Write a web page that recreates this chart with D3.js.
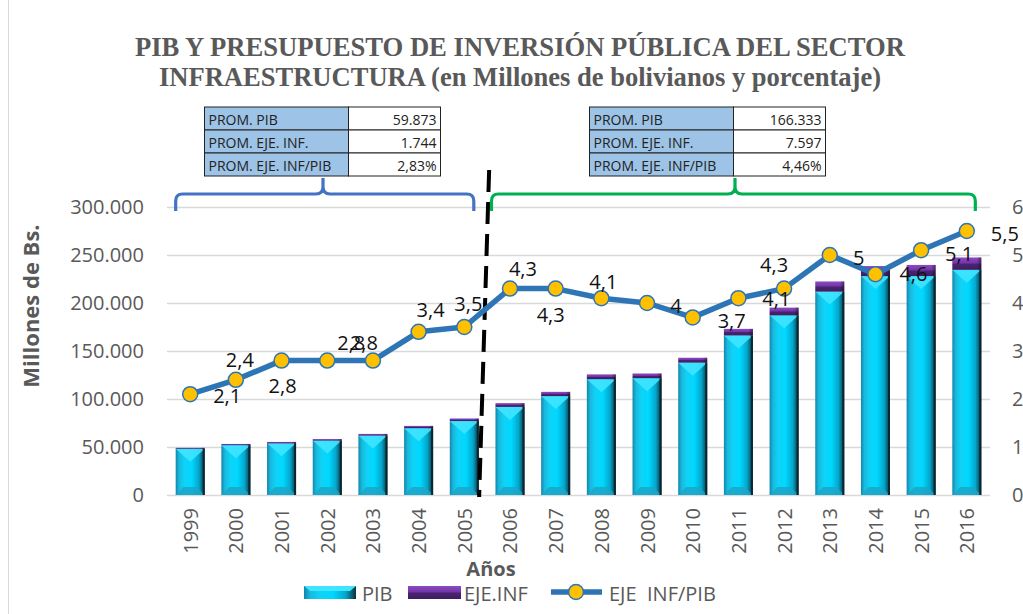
<!DOCTYPE html>
<html><head><meta charset="utf-8">
<script src="https://cdn.jsdelivr.net/npm/d3@7"></script>
<style>
html,body{margin:0;padding:0;background:#fff;}
svg{display:block;font-family:"Open Sans",sans-serif;}
</style></head>
<body><svg id="c" width="1023" height="614"></svg>
<script>
// ---- data ----
const years = ["1999","2000","2001","2002","2003","2004","2005","2006","2007","2008","2009","2010","2011","2012","2013","2014","2015","2016"];
const pib = [48156,51928,53790,56682,61904,69626,77024,91748,103009,120694,121727,137876,166232,187154,211856,228004,228031,234533];
const ejeInf = [1011,1246,1506,1587,1733,2367,2696,3945,4429,4948,4869,5101,6816,8048,10593,10488,11630,12899];
const ratio = [2.1,2.4,2.8,2.8,2.8,3.4,3.5,4.3,4.3,4.1,4.0,3.7,4.1,4.3,5.0,4.6,5.1,5.5];
const leftTicks = [0,50000,100000,150000,200000,250000,300000];
const rightTicks = [0,1,2,3,4,5,6];
const tableLabels = ["PROM. PIB","PROM. EJE. INF.","PROM. EJE. INF/PIB"];
const tableLeftValues = ["59.873","1.744","2,83%"];
const tableRightValues = ["166.333","7.597","4,46%"];
const titleLines = ["PIB Y PRESUPUESTO DE INVERSIÓN PÚBLICA DEL SECTOR","INFRAESTRUCTURA (en Millones de bolivianos y porcentaje)"];
const legendNames = ["PIB","EJE.INF","EJE  INF/PIB"];
// label placement offsets (layout only)
const labelOffsets = [[37,1],[4,-20],[1,25],[24,-18],[-9,-18],[12,-22],[4,-24],[13,-20],[-5,26],[2,-17],[29,2],[39,3],[38,0],[-10,-24],[29,2],[38,-1],[38,3],[38,2]];

const svg = d3.select("#c");
const grey = "#595959";
const loc = d3.formatLocale({decimal:",",thousands:".",grouping:[3],currency:["",""]});
const fmtL = loc.format(",");
const fmtR = v => String(v).replace(".",",");

const x = d3.scaleBand().domain(years).range([167,990]).paddingInner(0.365).paddingOuter(0.19);
const yL = d3.scaleLinear().domain([0,300000]).range([495,207]);
const yR = d3.scaleLinear().domain([0,6]).range([495,207]);
const bw = x.bandwidth();

// defs
const defs = svg.append("defs");
const g1 = defs.append("linearGradient").attr("id","cyan").attr("x1",0).attr("x2",1).attr("y1",0).attr("y2",0);
[[0,"#1386a8"],[0.12,"#18b9de"],[0.3,"#10d2f6"],[0.55,"#00d8ff"],[0.8,"#04a6cc"],[0.93,"#0b5a70"],[1,"#0a2f3a"]].forEach(s=>g1.append("stop").attr("offset",s[0]).attr("stop-color",s[1]));
const g2 = defs.append("linearGradient").attr("id","purp").attr("x1",0).attr("x2",0).attr("y1",0).attr("y2",1);
[[0,"#8a4cc4"],[0.45,"#7434a8"],[0.55,"#4a2470"],[1,"#3e1d60"]].forEach(s=>g2.append("stop").attr("offset",s[0]).attr("stop-color",s[1]));
const g3 = defs.append("linearGradient").attr("id","purpH").attr("x1",0).attr("x2",1).attr("y1",0).attr("y2",0);
[[0,"rgba(0,0,0,0)"],[0.85,"rgba(0,0,0,0)"],[1,"rgba(0,0,0,0.45)"]].forEach(s=>g3.append("stop").attr("offset",s[0]).attr("stop-color",s[1]));

// chart border (left)
svg.append("line").attr("x1",8.5).attr("x2",8.5).attr("y1",0).attr("y2",614).attr("stroke","#d9d9d9").attr("stroke-width",1);

// title
svg.selectAll("text.title").data(titleLines).join("text").attr("class","title")
  .attr("x",520).attr("y",(d,i)=>56+i*30).attr("text-anchor","middle")
  .attr("font-family","'Liberation Serif','Times New Roman',serif").attr("font-weight","bold")
  .attr("font-size",27).attr("fill",grey)
  .attr("textLength",(d,i)=>i===0?770:722).attr("lengthAdjust","spacingAndGlyphs")
  .text(d=>d);

// gridlines
svg.append("g").selectAll("line").data(leftTicks).join("line")
  .attr("x1",167).attr("x2",990).attr("y1",d=>Math.round(yL(d))+0.5).attr("y2",d=>Math.round(yL(d))+0.5)
  .attr("stroke","#d9d9d9").attr("stroke-width",1.5);

// left axis
const axL = svg.append("g").attr("transform","translate(167,0)")
  .call(d3.axisLeft(yL).tickValues(leftTicks).tickFormat(fmtL).tickSize(0).tickPadding(23));
axL.select(".domain").remove();
axL.selectAll("text").attr("font-size",20).attr("fill",grey).attr("font-family","'Open Sans',sans-serif");

// right axis
const axR = svg.append("g").attr("transform","translate(990,0)")
  .call(d3.axisRight(yR).tickValues(rightTicks).tickFormat(d=>d).tickSize(0).tickPadding(22));
axR.select(".domain").remove();
axR.selectAll("text").attr("font-size",20).attr("fill",grey).attr("font-family","'Open Sans',sans-serif");

// x axis
const axX = svg.append("g").attr("transform","translate(0,495)")
  .call(d3.axisBottom(x).tickSize(0).tickPadding(0));
axX.select(".domain").remove();
axX.selectAll("text").attr("font-size",20).attr("fill",grey).attr("font-family","'Open Sans',sans-serif")
  .attr("text-anchor","end").attr("dy",null).attr("y",0)
  .attr("transform","translate(0,13) rotate(-90)").attr("dominant-baseline","central");

// axis titles
svg.append("text").attr("transform","translate(30,306) rotate(-90)").attr("text-anchor","middle")
  .attr("dominant-baseline","central").attr("font-size",22).attr("font-weight","bold").attr("fill",grey).text("Millones de Bs.");
svg.append("text").attr("x",491).attr("y",576).attr("text-anchor","middle")
  .attr("font-size",20).attr("font-weight","bold").attr("fill",grey).text("Años");

// bars
const bars = svg.append("g").selectAll("g").data(years).join("g");
bars.each(function(d,i){
  const g = d3.select(this);
  const x0 = x(d), x1 = x0+bw, xc = x0+bw/2;
  const yTop = yL(pib[i]), yB = yL(0);
  g.append("rect").attr("x",x0).attr("y",yTop).attr("width",bw).attr("height",yB-yTop).attr("fill","url(#cyan)");
  const tb = Math.min(13,(yB-yTop)/2);
  g.append("polygon").attr("points",[[x0,yTop],[x1,yTop],[xc,yTop+tb]].join(" ")).attr("fill","#3fe4ff").attr("opacity",0.9);
  const bb = 8;
  g.append("polygon").attr("points",[[x0,yB],[x1,yB],[x1-bb,yB-bb],[x0+bb,yB-bb]].join(" ")).attr("fill","#1ba6c8").attr("opacity",0.85);
  g.append("rect").attr("x",x1-2).attr("y",yTop).attr("width",2).attr("height",yB-yTop).attr("fill","#072830");
  // purple stack
  const yP = yL(pib[i]+ejeInf[i]);
  g.append("rect").attr("x",x0).attr("y",yP).attr("width",bw).attr("height",yTop-yP).attr("fill","url(#purp)");
  g.append("rect").attr("x",x0).attr("y",yP).attr("width",bw).attr("height",yTop-yP).attr("fill","url(#purpH)");
});

// dashed separator
const sepX = (x(years[6])+bw + x(years[7]))/2;
svg.append("line").attr("x1",sepX+2).attr("y1",170).attr("x2",sepX-8).attr("y2",497)
  .attr("stroke","#000").attr("stroke-width",4).attr("stroke-dasharray","22,10");

// line
const pts = ratio.map((v,i)=>[x(years[i])+bw/2, yR(v)]);
svg.append("path").attr("d",d3.line()(pts)).attr("fill","none").attr("stroke","#2e75b6").attr("stroke-width",5.5).attr("stroke-linejoin","round");
svg.append("g").selectAll("circle").data(pts).join("circle")
  .attr("cx",d=>d[0]).attr("cy",d=>d[1]).attr("r",7.5).attr("fill","#ffc000").attr("stroke","#2e75b6").attr("stroke-width",1.5);
svg.append("g").selectAll("text").data(ratio).join("text")
  .attr("x",(d,i)=>pts[i][0]+labelOffsets[i][0]).attr("y",(d,i)=>pts[i][1]+labelOffsets[i][1])
  .attr("text-anchor","middle").attr("dominant-baseline","central").attr("font-size",20).attr("fill","#111")
  .text(d=>fmtR(d));

// brackets
function bracket(x0,x1,xm,color){
  const yh=194, yb=211, yt=178, r=7;
  const p = `M${x0},${yb} L${x0},${yh+r} Q${x0},${yh} ${x0+r},${yh} L${xm-r},${yh} Q${xm},${yh} ${xm},${yh-r} L${xm},${yt} M${xm},${yh-r} Q${xm},${yh} ${xm+r},${yh} L${x1-r},${yh} Q${x1},${yh} ${x1},${yh+r} L${x1},${yb}`;
  svg.append("path").attr("d",p).attr("fill","none").attr("stroke",color).attr("stroke-width",3.2);
}
bracket(x(years[0]), x(years[6])+bw-5, 323, "#4472c4");
bracket(x(years[7])-4, x(years[17])+bw-6, 735, "#00b050");

// tables
function table(tx,split,tr,values){
  const top=107, rh=23;
  const g = svg.append("g");
  tableLabels.forEach((lab,i)=>{
    const y0 = top+i*rh;
    g.append("rect").attr("x",tx).attr("y",y0).attr("width",split-tx).attr("height",rh).attr("fill","#9dc3e6").attr("stroke","#222").attr("stroke-width",1);
    g.append("rect").attr("x",split).attr("y",y0).attr("width",tr-split).attr("height",rh).attr("fill","#fff").attr("stroke","#222").attr("stroke-width",1);
    g.append("text").attr("x",tx+4).attr("y",y0+rh/2+1).attr("dominant-baseline","central").attr("font-size",14).attr("fill","#222").text(lab);
    g.append("text").attr("x",tr-4).attr("y",y0+rh/2+1).attr("dominant-baseline","central").attr("text-anchor","end").attr("font-size",14).attr("fill","#222").text(values[i]);
  });
}
table(204.5,348.5,440.5,tableLeftValues);
table(589.5,733.5,825.5,tableRightValues);

// legend
const lg = svg.append("g");
lg.append("rect").attr("x",304).attr("y",586).attr("width",52).attr("height",13).attr("fill","url(#cyan)");
lg.append("polygon").attr("points","304,586 356,586 350,591 310,591").attr("fill","#3fe4ff");
lg.append("text").attr("x",362).attr("y",593).attr("dominant-baseline","central").attr("font-size",20).attr("fill",grey).text(legendNames[0]);
lg.append("rect").attr("x",408).attr("y",586).attr("width",53).attr("height",13).attr("fill","url(#purp)");
lg.append("text").attr("x",464).attr("y",593).attr("dominant-baseline","central").attr("font-size",20).attr("fill",grey).text(legendNames[1]);
lg.append("line").attr("x1",551).attr("x2",602).attr("y1",592).attr("y2",592).attr("stroke","#2e75b6").attr("stroke-width",5.5);
lg.append("circle").attr("cx",576).attr("cy",592).attr("r",7.5).attr("fill","#ffc000").attr("stroke","#2e75b6").attr("stroke-width",1.5);
lg.append("text").attr("x",609).attr("y",593).attr("dominant-baseline","central").attr("font-size",20).attr("fill",grey).attr("xml:space","preserve").text(legendNames[2]);
</script></body></html>
